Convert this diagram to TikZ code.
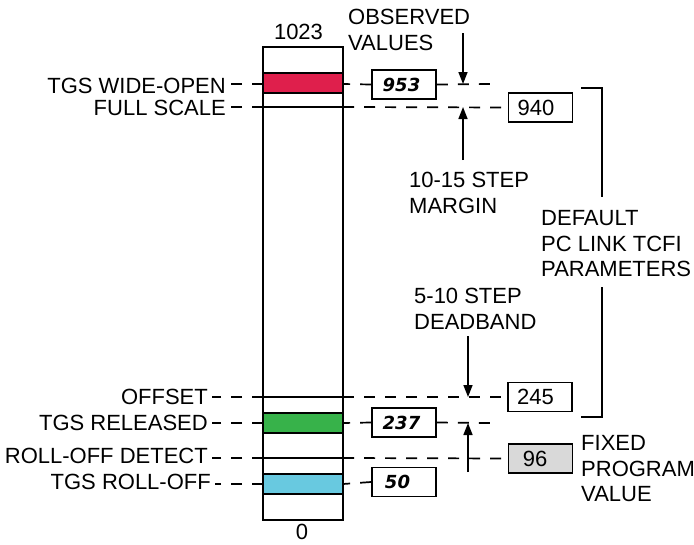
\documentclass[tikz,border=0pt]{standalone}
\usepackage{fontspec}
\setmainfont{Liberation Sans}
\newfontfamily\handfont{DejaVu Sans}
\usetikzlibrary{arrows.meta}
\definecolor{bandred}{HTML}{DF1F4C}
\definecolor{bandgreen}{HTML}{37B24A}
\definecolor{bandcyan}{HTML}{68C9E0}
\definecolor{fixgrey}{HTML}{D9D9D9}
\begin{document}
\begin{tikzpicture}[x=1pt,y=-1pt,
  every node/.style={font=\fontsize{22}{25.8}\selectfont, inner sep=0pt},
  lab/.style={anchor=base east},
  txt/.style={anchor=north west, align=left},
  dashln/.style={dash pattern=on 11pt off 10pt, line width=1.7pt},
  valbox/.style={draw, line width=1.9pt, minimum width=64pt, minimum height=29pt},
  obsbox/.style={valbox, font=\handfont\bfseries\itshape\fontsize{18}{20}\selectfont},
  band/.style={draw, line width=1.9pt, minimum width=80pt, minimum height=20pt},
  arr/.style={-{Triangle[length=12pt,width=9pt]}, line width=1.6pt},
  brk/.style={line width=1.9pt}
]
\useasboundingbox (0,0) rectangle (694,544);

% scale bar
\node[draw, line width=1.9pt, minimum width=80pt, minimum height=473pt] (bar) at (303,283.5) {};
\node[anchor=base] (top) at (298.5,39) {1023};
\node[anchor=base] (bot) at (302,539.5) {0};

% bands
\node[band, fill=bandred]   (red)   at (303,83)  {};
\node[band, fill=bandgreen] (green) at (303,423) {};
\node[band, fill=bandcyan]  (cyan)  at (303,484) {};

% level coordinates on the bar
\coordinate (wL) at (263,84);  \coordinate (wR) at (343,84);
\coordinate (fL) at (263,107); \coordinate (fR) at (343,107);
\coordinate (oL) at (263,397); \coordinate (oR) at (343,397);
\coordinate (rL) at (263,423); \coordinate (rR) at (343,423);
\coordinate (dL) at (263,458); \coordinate (dR) at (343,458);
\coordinate (cL) at (263,484); \coordinate (cR) at (343,484);

% solid lines across the bar
\draw[line width=1.6pt] (fL) -- (fR);
\draw[line width=1.6pt] (oL) -- (oR);
\draw[line width=1.6pt] (dL) -- (dR);

% left labels
\node[lab] (lw) at (226,93)  {TGS WIDE-OPEN};
\node[lab] (lf) at (226,115) {FULL SCALE};
\node[lab] (lo) at (208,404) {OFFSET};
\node[lab] (lr) at (208,430) {TGS RELEASED};
\node[lab] (ld) at (208,463) {ROLL-OFF DETECT};
\node[lab] (lc) at (211,489) {TGS ROLL-OFF};

\draw[dashln] (wL) -- ([xshift=4pt]wL -| lw.east);
\draw[dashln] (fL) -- ([xshift=4pt]fL -| lf.east);
\draw[dashln] (oL) -- ([xshift=4pt]oL -| lo.east);
\draw[dashln] (rL) -- ([xshift=4pt]rL -| lr.east);
\draw[dashln] (dL) -- ([xshift=4pt]dL -| ld.east);
\draw[dashln] (cL) -- ([xshift=4pt]cL -| lc.east);

% value boxes
\node[obsbox] (v953) at (404,84.5) {953\hspace*{5pt}};
\node[valbox] (v940) at (540.5,107.5) {940\hspace*{9pt}};
\node[valbox] (v245) at (540,397) {245\hspace*{9pt}};
\node[obsbox] (v237) at (404,422.5) {237\hspace*{5pt}};
\node[valbox, fill=fixgrey] (v96) at (540.5,458.5) {96\hspace*{11pt}};
\node[obsbox] (v50) at (404,482) {50\hspace*{13pt}};

% dashed connections to the boxes
\draw[dashln] (v953.west) -- (wR);
\coordinate (e1) at (490,84);
\draw[dashln] (v953.east) -- (e1);
\draw[dashln] (fR) -- (v940.west);
\draw[dashln] (oR) -- (v245.west);
\draw[dashln] (v237.west) -- (rR);
\coordinate (e2) at (490,423);
\draw[dashln] (v237.east) -- (e2);
\draw[dashln] (dR) -- (v96.west);
\draw[dashln] (v50.west) -- (cR);

% annotations
\node[txt] (obs) at (348,9) {OBSERVED\\VALUES};
\node[txt] (marg) at (409,172) {10-15 STEP\\MARGIN};
\node[txt] (dead) at (414,288) {5-10 STEP\\DEADBAND};
\node[txt] (dflt) at (541,210) {DEFAULT\\PC LINK TCFI\\PARAMETERS};
\node[txt] (fixd) at (581,435) {FIXED\\PROGRAM\\VALUE};

% arrows
\coordinate (a1s) at (463,33);  \coordinate (a1e) at (463,84);
\coordinate (a2s) at (463,160); \coordinate (a2e) at (463,107);
\coordinate (a3s) at (468,336); \coordinate (a3e) at (468,397);
\coordinate (a4s) at (468,472); \coordinate (a4e) at (468,423);
\draw[arr] (a1s) -- (a1e);
\draw[arr] (a2s) -- (a2e);
\draw[arr] (a3s) -- (a3e);
\draw[arr] (a4s) -- (a4e);

% bracket
\coordinate (b1) at (581,88);  \coordinate (b2) at (602,88);  \coordinate (b3) at (602,197);
\coordinate (b4) at (602,287); \coordinate (b5) at (602,417); \coordinate (b6) at (581,417);
\draw[brk] (b1) -- (b2) -- (b3);
\draw[brk] (b4) -- (b5) -- (b6);
\end{tikzpicture}
\end{document}
